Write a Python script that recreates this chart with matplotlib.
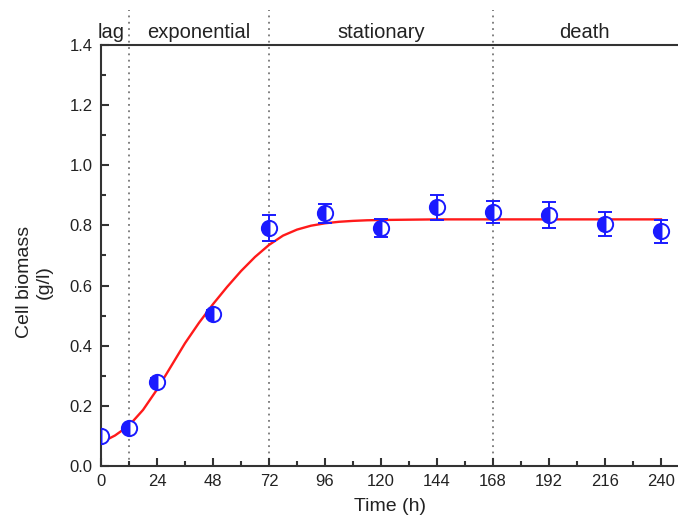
import matplotlib
matplotlib.use("Agg")
import matplotlib.pyplot as plt
from matplotlib.ticker import MultipleLocator, FormatStrFormatter

plt.rcParams['font.family'] = ['Liberation Sans', 'DejaVu Sans']

# measured data
time_h = [0, 12, 24, 48, 72, 96, 120, 144, 168, 192, 216, 240]
biomass = [0.10, 0.125, 0.28, 0.505, 0.79, 0.84, 0.79, 0.86, 0.845, 0.835, 0.805, 0.78]
biomass_err = [0.012, 0.012, 0.012, 0.012, 0.043, 0.032, 0.03, 0.042, 0.037, 0.043, 0.04, 0.039]

# fitted curve
fit_t = [0, 6, 12, 18, 24, 30, 36, 42, 48, 54, 60, 66, 72, 78, 84, 90, 96, 102, 108, 114, 120, 132, 144, 168, 240]
fit_y = [0.077, 0.101, 0.134, 0.186, 0.254, 0.331, 0.408, 0.476, 0.538, 0.595, 0.648, 0.695, 0.735, 0.766, 0.786,
         0.799, 0.807, 0.812, 0.815, 0.817, 0.818, 0.819, 0.82, 0.82, 0.82]

# growth phases
phase_bounds = [12, 72, 168]
phase_names = ["lag", "exponential", "stationary", "death"]
phase_centers = [4.5, 42, 120, 207]

fig = plt.figure(figsize=(6.78, 5.24), dpi=100)
ax = fig.add_axes([0.149, 0.111, 0.851, 0.803])

spine_c = '#333333'
for b in phase_bounds:
    ax.axvline(b, ymin=0, ymax=1.083, color='#777777', ls=(0, (1, 2.5)), lw=1.3, clip_on=False, zorder=1)

ax.plot(fit_t, fit_y, color='#ff1a1a', lw=1.7, zorder=3)
ax.errorbar(time_h, biomass, yerr=biomass_err, fmt='o', color='#1a1aff',
            markersize=11, fillstyle='left', markerfacecoloralt='white', markeredgewidth=1.4,
            ecolor='#1a1aff', elinewidth=1.4, capsize=5, capthick=1.5, zorder=4)

ax.set_xlim(0, 247.3)
ax.set_ylim(0, 1.4)
ax.xaxis.set_major_locator(MultipleLocator(24))
ax.xaxis.set_minor_locator(MultipleLocator(12))
ax.yaxis.set_major_locator(MultipleLocator(0.2))
ax.yaxis.set_minor_locator(MultipleLocator(0.1))
ax.yaxis.set_major_formatter(FormatStrFormatter('%.1f'))
ax.tick_params(which='both', direction='in', color=spine_c, width=1.5, labelsize=12, labelcolor='#222222')
ax.tick_params(which='major', length=6, pad=6)
ax.tick_params(which='minor', length=3.5)

ax.spines['right'].set_visible(False)
for s in ['left', 'bottom', 'top']:
    ax.spines[s].set_color(spine_c)
    ax.spines[s].set_linewidth(1.5)

ax.set_xlabel("Time (h)", fontsize=14, color='#222222', labelpad=6)
ax.set_ylabel("Cell biomass\n(g/l)", fontsize=14, color='#222222', linespacing=1.25)
ax.yaxis.set_label_coords(-0.083, 0.437)

for name, c in zip(phase_names, phase_centers):
    ax.text(c, 1.443, name, ha='center', va='center', fontsize=14.5, color='#222222')

fig.savefig("out.png", dpi=100)
